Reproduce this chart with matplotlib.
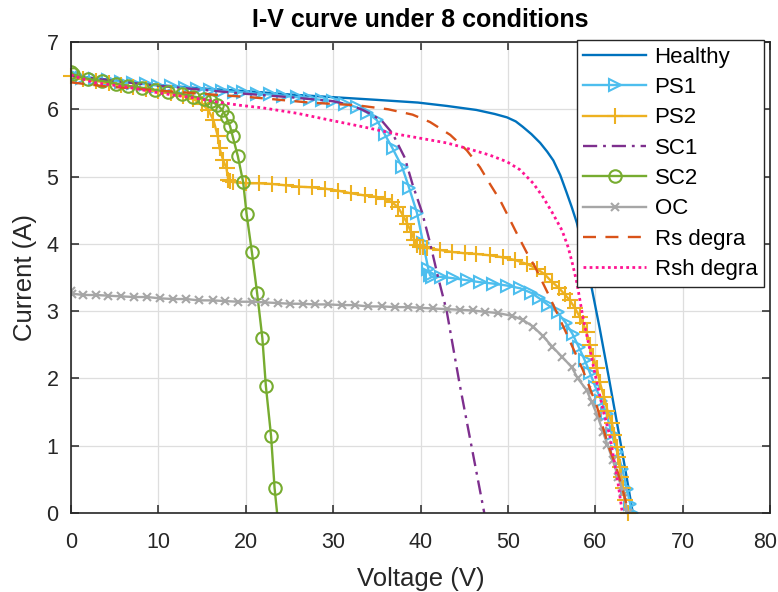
import matplotlib
matplotlib.use("Agg")
import matplotlib.pyplot as plt
from matplotlib.transforms import ScaledTranslation

plt.rcParams['font.family'] = ['Liberation Sans', 'DejaVu Sans']

# Voltage (V) / current (A) samples for each operating condition
healthy_v = [0, 5, 10, 15, 20, 25, 30, 35, 39.7, 43, 46.4, 48.5, 49.9, 50.9, 51.7, 52.7, 53.7,
             54.5, 55.2, 56.0, 56.7, 57.3, 57.9, 58.7, 59.6, 60.5, 61.5, 62.5, 63.5, 64.3]
healthy_i = [6.50, 6.43, 6.36, 6.31, 6.27, 6.22, 6.18, 6.14, 6.10, 6.05, 5.99, 5.93, 5.88, 5.82,
             5.74, 5.63, 5.50, 5.37, 5.24, 5.02, 4.77, 4.55, 4.31, 3.85, 3.34, 2.75, 2.05, 1.33,
             0.60, 0.0]

ps1_v = [0, 0.3, 1.3, 2.8, 4.2, 5.7, 7.1, 8.6, 10.0, 11.5, 13.0, 14.4, 15.9, 17.3, 18.6, 19.7,
         21.3, 22.8, 24.3, 25.9, 27.3, 28.7, 30.0, 31.4, 32.7, 33.9, 35.0, 35.9, 36.8, 37.9,
         38.7, 39.6, 40.3, 40.9, 41.1, 41.3, 42.4, 43.7, 45.3, 46.8, 48.3, 49.9, 51.4, 52.7,
         53.6, 54.6, 55.7, 56.6, 57.4, 58.1, 58.8, 59.4, 60.0, 60.7, 61.3, 61.9, 62.5, 63.1,
         63.6, 64.0, 64.2]
ps1_i = [6.53, 6.50, 6.47, 6.45, 6.43, 6.41, 6.39, 6.37, 6.35, 6.34, 6.32, 6.30, 6.29, 6.27,
         6.26, 6.25, 6.23, 6.22, 6.20, 6.18, 6.16, 6.14, 6.12, 6.08, 6.03, 5.95, 5.84, 5.63,
         5.42, 5.14, 4.83, 4.46, 4.01, 3.62, 3.53, 3.51, 3.51, 3.49, 3.46, 3.43, 3.41, 3.38,
         3.34, 3.27, 3.19, 3.09, 2.98, 2.83, 2.66, 2.47, 2.27, 2.08, 1.88, 1.67, 1.47, 1.17,
         0.91, 0.65, 0.36, 0.14, 0.0]

ps2_v = [0, 1.4, 2.9, 4.3, 5.7, 7.1, 8.6, 10.0, 11.4, 12.8, 14.0, 15.0, 15.7, 16.3, 16.8, 17.0,
         17.4, 17.8, 18.0, 18.2, 18.5, 20.0, 21.5, 23.0, 24.6, 26.1, 27.6, 29.1, 30.6, 32.1,
         33.6, 34.9, 35.9, 36.7, 37.4, 38.0, 38.5, 38.9, 39.3, 39.6, 39.9, 40.3, 40.8, 42.2,
         43.6, 45.1, 46.4, 47.9, 49.4, 50.8, 52.2, 53.3, 54.2, 55.0, 55.8, 56.5, 57.1, 57.7,
         58.2, 58.6, 59.0, 59.4, 59.7, 60.2, 60.5, 61.0, 61.4, 61.9, 62.2, 62.5, 62.6, 62.8,
         63.0, 63.2, 63.4, 63.7]
ps2_i = [6.50, 6.45, 6.42, 6.39, 6.36, 6.33, 6.30, 6.27, 6.24, 6.20, 6.15, 6.08, 5.99, 5.84,
         5.60, 5.42, 5.25, 5.12, 4.95, 4.93, 4.92, 4.90, 4.90, 4.89, 4.87, 4.85, 4.84, 4.82,
         4.79, 4.75, 4.72, 4.70, 4.67, 4.62, 4.55, 4.42, 4.30, 4.18, 4.06, 3.98, 3.96, 3.95,
         3.94, 3.91, 3.88, 3.86, 3.85, 3.83, 3.80, 3.76, 3.70, 3.63, 3.55, 3.44, 3.35, 3.25,
         3.16, 3.04, 2.92, 2.82, 2.69, 2.50, 2.33, 2.15, 1.95, 1.73, 1.52, 1.34, 1.16, 0.98,
         0.83, 0.68, 0.53, 0.37, 0.19, 0.0]

sc1_v = [0, 5, 10, 15, 20, 25, 30, 32, 33.4, 34.6, 35.7, 36.8, 38.2, 39.1, 40.2, 41.1, 42.0,
         43.0, 44.5, 47.3]
sc1_i = [6.50, 6.42, 6.35, 6.29, 6.23, 6.18, 6.12, 6.06, 5.99, 5.91, 5.81, 5.64, 5.28, 4.88,
         4.46, 4.01, 3.51, 3.00, 1.90, 0.0]

sc2_v = [0, 0.2, 2.0, 3.6, 5.2, 6.5, 8.1, 9.6, 11.1, 12.7, 14.0, 15.2, 16.0, 16.7, 17.3, 17.8,
         18.2, 18.5, 19.1, 19.7, 20.1, 20.7, 21.3, 21.9, 22.3, 22.9, 23.3, 23.9]
sc2_i = [6.56, 6.52, 6.45, 6.42, 6.38, 6.35, 6.32, 6.29, 6.26, 6.23, 6.19, 6.16, 6.12, 6.07,
         5.99, 5.88, 5.75, 5.60, 5.30, 4.92, 4.44, 3.88, 3.27, 2.60, 1.89, 1.14, 0.37, -0.40]

oc_v = [0, 0.1, 1.4, 2.9, 4.2, 5.7, 7.2, 8.7, 10.2, 11.7, 13.2, 14.6, 16.2, 17.6, 19.1, 20.7,
        22.2, 23.7, 25.1, 26.5, 27.9, 29.4, 31.0, 32.5, 34.0, 35.6, 37.1, 38.6, 39.9, 41.4,
        43.0, 44.5, 46.0, 47.4, 48.9, 50.5, 51.7, 52.9, 54.0, 55.1, 56.2, 57.3, 58.0, 59.0,
        59.6, 60.3, 60.9, 61.4, 62.0, 62.6, 63.2, 63.7]
oc_i = [3.30, 3.26, 3.24, 3.24, 3.23, 3.22, 3.21, 3.21, 3.19, 3.18, 3.18, 3.16, 3.16, 3.15,
        3.14, 3.14, 3.13, 3.12, 3.11, 3.11, 3.10, 3.10, 3.09, 3.09, 3.07, 3.07, 3.06, 3.06,
        3.05, 3.04, 3.03, 3.02, 3.01, 2.99, 2.97, 2.93, 2.87, 2.77, 2.63, 2.47, 2.32, 2.17,
        2.00, 1.83, 1.65, 1.43, 1.20, 1.01, 0.79, 0.54, 0.31, 0.0]

rs_v = [0, 2, 4, 10, 15, 20.5, 23.1, 27.3, 32.7, 36.3, 39.1, 41.1, 43.4, 45.3, 46.8, 47.9,
        49.1, 50.0, 51.0, 52.2, 53.1, 54.6, 56.7, 58.6, 60.2, 61.4, 62.5, 63.4, 63.8]
rs_i = [6.40, 6.37, 6.34, 6.28, 6.23, 6.18, 6.15, 6.10, 6.06, 6.00, 5.92, 5.81, 5.62, 5.39,
        5.14, 4.90, 4.65, 4.42, 4.16, 3.86, 3.66, 3.26, 2.67, 2.12, 1.58, 1.04, 0.64, 0.22, 0.0]

rsh_v = [0, 2.5, 6.4, 10.2, 14.0, 16.7, 19.3, 22.0, 25.9, 29.6, 33.4, 37.3, 39.1, 43.0, 45.3,
         47.9, 49.9, 51.4, 52.9, 54.0, 55.1, 56.2, 56.9, 57.4, 57.9, 58.6, 59.4, 60.2, 60.9,
         61.7, 62.2, 62.6, 63.1]
rsh_i = [6.51, 6.40, 6.33, 6.24, 6.17, 6.11, 6.06, 6.02, 5.94, 5.84, 5.74, 5.63, 5.59, 5.50,
         5.42, 5.32, 5.22, 5.10, 4.90, 4.70, 4.46, 4.20, 3.95, 3.70, 3.42, 2.90, 2.42, 1.93,
         1.53, 1.13, 0.74, 0.45, 0.0]

fig = plt.figure(figsize=(7.78, 5.92), dpi=100)
ax = fig.add_axes([71 / 778, 79 / 592, 699 / 778, 471 / 592])

lw = 1.7
mk = dict(markerfacecolor='none', markeredgewidth=1.5)
ax.plot(healthy_v, healthy_i, '-', color='#0072BD', lw=lw, label='Healthy')
ax.plot(ps1_v, ps1_i, '->', color='#4DBEEE', lw=lw, ms=9, label='PS1', **mk)
ax.plot(ps2_v, ps2_i, '-+', color='#EDB120', lw=lw, ms=11, label='PS2', clip_on=False, **mk)
ax.plot(sc1_v, sc1_i, '-.', color='#7E2F8E', lw=lw, dashes=(6, 2.5, 1.2, 2.5), label='SC1')
ax.plot(sc2_v, sc2_i, '-o', color='#77AC30', lw=lw, ms=9, label='SC2', **mk)
ax.plot(oc_v, oc_i, '-x', color='#A6A6A6', lw=lw, ms=6, label='OC', **mk)
ax.plot(rs_v, rs_i, '--', color='#D95319', lw=lw, dashes=(5.5, 4), label='Rs degra')
ax.plot(rsh_v, rsh_i, ':', color='#FF1493', lw=2.0, dashes=(1, 1.2), label='Rsh degra')

ax.set_xlim(0, 80)
ax.set_ylim(0, 7)
ax.set_xticks(range(0, 81, 10))
ax.set_yticks(range(0, 8))
ax.grid(True, color='#dedede', lw=0.9)
ax.set_axisbelow(True)

dark = '#262626'
for s in ax.spines.values():
    s.set_color(dark)
    s.set_linewidth(1.2)
ax.tick_params(direction='in', top=True, right=True, length=6, width=1.1,
               colors=dark, labelsize=15.5)
ax.tick_params(axis='x', pad=14)
ax.tick_params(axis='y', pad=9)

# nudge the last x tick label so it stays inside the canvas
fig.canvas.draw()
last = ax.get_xticklabels()[-1]
last.set_transform(last.get_transform() + ScaledTranslation(-5 / 100, 0, fig.dpi_scale_trans))

ax.set_xlabel('Voltage (V)', fontsize=18.5, color=dark, labelpad=10)
ax.set_ylabel('Current (A)', fontsize=18.5, color=dark, labelpad=7)
ax.set_title('I-V curve under 8 conditions', fontsize=18, fontweight='bold', color='black', pad=11)

leg = ax.legend(loc='upper right', bbox_to_anchor=(693 / 699, 473 / 471), borderaxespad=0,
                fontsize=16, frameon=True, fancybox=False, framealpha=1, edgecolor=dark,
                handlelength=2.8, labelspacing=0.42, borderpad=0.3, handletextpad=0.4)
leg.get_frame().set_linewidth(1.0)

fig.savefig('out.png', dpi=100)
